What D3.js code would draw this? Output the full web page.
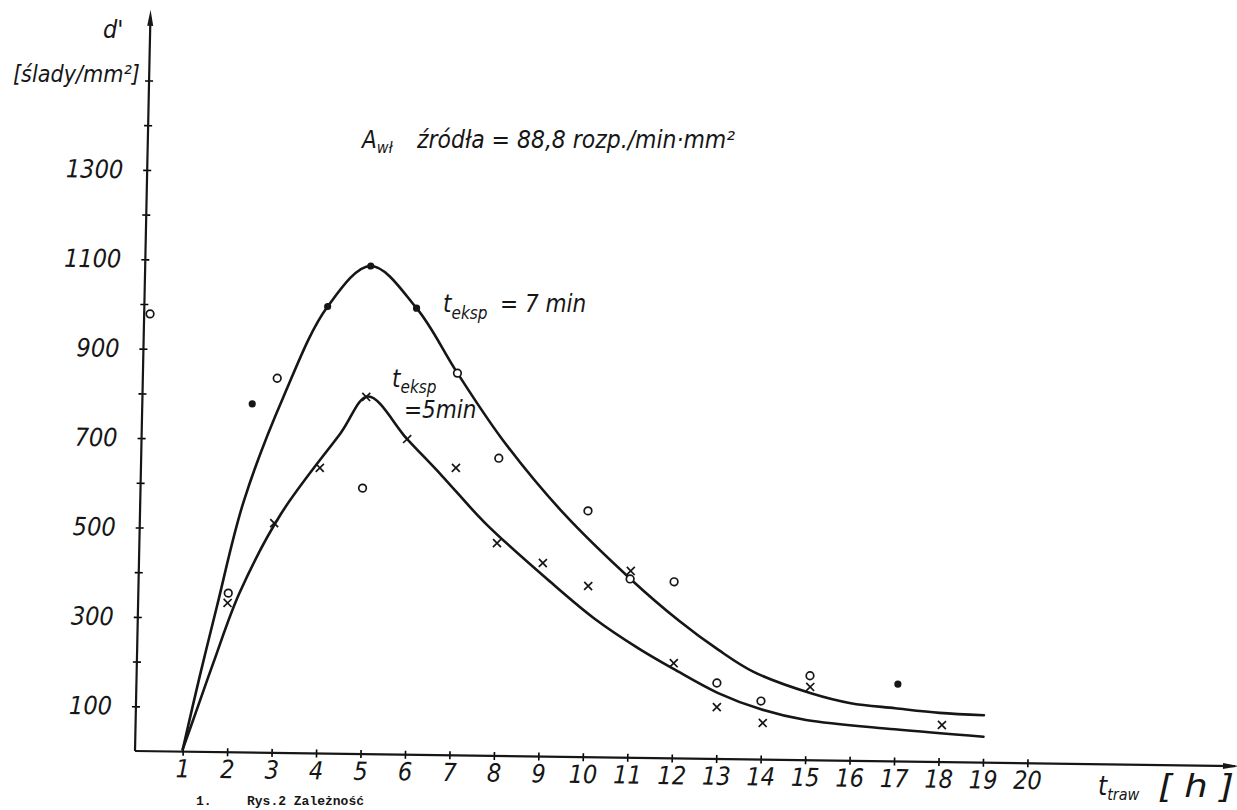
<!DOCTYPE html>
<html>
<head>
<meta charset="utf-8">
<script src="https://cdn.jsdelivr.net/npm/d3@7"></script>
<style>
  body { margin: 0; background: #fff; }
  text { font-family: "Liberation Sans Narrow", "DejaVu Sans Condensed", "Liberation Sans", sans-serif; font-style: italic; fill: #161616; }
  .caption { font-family: "Liberation Mono", "DejaVu Sans Mono", monospace; font-style: normal; font-weight: bold; }
</style>
</head>
<body>
<div id="chart"></div>
<script>
// axis ticks
const hourTicks = d3.range(1, 21);
const densityTicks = d3.range(100, 1600, 100);
const densityLabels = [100, 300, 500, 700, 900, 1100, 1300];

// t_eksp = 7 min, measured points (filled dots)
const sevenDotH = [2.4, 4.05, 5.0, 6.05, 17.05];
const sevenDotV = [780, 1000, 1092, 999, 173];
// t_eksp = 7 min, measured points (open circles)
const sevenRingH = [0.06, 1.95, 2.95, 4.92, 7.0, 7.97, 10.0, 10.98, 11.97, 12.98, 13.98, 15.07];
const sevenRingV = [978, 356, 838, 595, 855, 666, 551, 400, 395, 170, 131, 189];
// t_eksp = 5 min, measured points (crosses)
const fiveCrossH = [1.94, 2.95, 3.95, 4.96, 5.9, 7.01, 7.97, 9.01, 10.04, 10.99, 12.0, 12.99, 14.03, 15.08, 18.06];
const fiveCrossV = [334, 514, 639, 799, 706, 643, 476, 433, 383, 418, 213, 116, 82, 164, 83];

// hand drawn curves
const sevenCurveH = [1, 1.35, 1.7, 2.25, 3.1, 4.05, 5.0, 6.05, 7.0, 8.05, 9.45, 11.0, 12.1, 13.0, 13.8, 15.1, 16.0, 17.0, 18.0, 19.0];
const sevenCurveV = [5, 170, 325, 560, 797, 1000, 1092, 999, 855, 707, 545, 399, 308, 244, 196, 150, 129, 119, 110, 106];
const fiveCurveH = [1, 1.3, 1.65, 2.2, 3.1, 4.4, 5.0, 5.9, 6.7, 7.7, 9.2, 10.2, 11.2, 12.0, 13.0, 14.0, 15.0, 17.0, 19.0];
const fiveCurveV = [5, 95, 200, 356, 535, 717, 800, 706, 625, 520, 390, 310, 245, 200, 148, 112, 90, 72, 58];

const svgWidth = 1237, svgHeight = 810;
const origin = {x: 135, y: 751};
const ink = "#161616";
const tickFont = '"Liberation Sans Narrow", "DejaVu Sans Condensed", "Liberation Sans", sans-serif';

const svg = d3.select('#chart').append('svg')
  .attr('width', svgWidth)
  .attr('height', svgHeight);

// the scan is slightly skewed, so the plot group is sheared a little
const plot = svg.append('g')
  .attr('transform', 'matrix(1,0.01375,-0.021,1,' + origin.x + ',' + origin.y + ')');

const x = d3.scaleLinear().domain([0, 20]).range([3.2, 3.2 + 20 * 44.46]);
const y = d3.scaleLinear().domain([0, 1600]).range([0, -1600 * 0.447]);

// x axis
const xAxis = plot.append('g')
  .call(d3.axisBottom(x).tickValues(hourTicks).tickSize(4).tickPadding(4));
xAxis.select('.domain').remove();
xAxis.selectAll('.tick line').attr('y1', -4).attr('stroke-width', 1.6);
xAxis.selectAll('.tick text')
  .attr('font-size', 25)
  .attr('font-family', tickFont)
  .attr('fill', ink);

plot.append('line')
  .attr('x1', 0).attr('y1', 0)
  .attr('x2', 1100).attr('y2', 0)
  .attr('stroke', ink).attr('stroke-width', 2.2);
plot.append('path')
  .attr('d', 'M1104,0L1088,-3L1088,3Z')
  .attr('fill', ink);

// y axis
const yAxis = plot.append('g')
  .call(d3.axisLeft(y).tickValues(densityTicks).tickSize(4).tickPadding(20)
    .tickFormat(d => densityLabels.includes(d) ? d : ''));
yAxis.select('.domain').remove();
yAxis.selectAll('.tick line').attr('x1', 4).attr('stroke-width', 1.6);
yAxis.selectAll('.tick text')
  .attr('font-size', 25)
  .attr('font-family', tickFont)
  .attr('fill', ink);

const yTop = y(1658);
plot.append('line')
  .attr('x1', 0).attr('y1', 0)
  .attr('x2', 0).attr('y2', yTop + 10)
  .attr('stroke', ink).attr('stroke-width', 2.2);
plot.append('path')
  .attr('d', 'M0,' + yTop + 'L-3,' + (yTop + 16) + 'L3,' + (yTop + 16) + 'Z')
  .attr('fill', ink);

// curves
const line = d3.line()
  .x(d => x(d[0]))
  .y(d => y(d[1]))
  .curve(d3.curveCatmullRom.alpha(0.5));

[[sevenCurveH, sevenCurveV], [fiveCurveH, fiveCurveV]].forEach(([hs, vs]) => {
  plot.append('path')
    .attr('d', line(d3.zip(hs, vs)))
    .attr('fill', 'none')
    .attr('stroke', ink)
    .attr('stroke-width', 2.6)
    .attr('stroke-linecap', 'round');
});

// measured points
plot.selectAll('.dot')
  .data(d3.zip(sevenDotH, sevenDotV))
  .enter().append('circle')
    .attr('class', 'dot')
    .attr('cx', d => x(d[0]))
    .attr('cy', d => y(d[1]))
    .attr('r', 3.6)
    .attr('fill', ink);

plot.selectAll('.ring')
  .data(d3.zip(sevenRingH, sevenRingV))
  .enter().append('circle')
    .attr('class', 'ring')
    .attr('cx', d => x(d[0]))
    .attr('cy', d => y(d[1]))
    .attr('r', 3.8)
    .attr('fill', '#fff')
    .attr('stroke', ink)
    .attr('stroke-width', 1.7);

plot.selectAll('.cross')
  .data(d3.zip(fiveCrossH, fiveCrossV))
  .enter().append('path')
    .attr('class', 'cross')
    .attr('transform', d => 'translate(' + x(d[0]) + ',' + y(d[1]) + ')')
    .attr('d', 'M-4,-4L4,4M-4,4L4,-4')
    .attr('stroke', ink)
    .attr('stroke-width', 1.7);

// annotations
svg.append('text').attr('x', 103).attr('y', 38).attr('font-size', 25).text("d'");
svg.append('text').attr('x', 13).attr('y', 82).attr('font-size', 23)
  .attr('textLength', 127).attr('lengthAdjust', 'spacingAndGlyphs')
  .text('[ślady/mm²]');

const title = svg.append('text').attr('x', 362).attr('y', 148).attr('font-size', 24);
title.append('tspan').text('A');
title.append('tspan').attr('font-size', 16).attr('dy', 5).text('wł');
title.append('tspan').attr('x', 417).attr('dy', -5)
  .attr('textLength', 318).attr('lengthAdjust', 'spacingAndGlyphs')
  .text('źródła = 88,8 rozp./min·mm²');

const lab7 = svg.append('text').attr('x', 443).attr('y', 312).attr('font-size', 24);
lab7.append('tspan').text('t');
lab7.append('tspan').attr('font-size', 17).attr('dy', 7).text('eksp');
lab7.append('tspan').attr('x', 500).attr('dy', -7).text('= 7 min');

const lab5 = svg.append('text').attr('x', 392).attr('y', 387).attr('font-size', 24);
lab5.append('tspan').text('t');
lab5.append('tspan').attr('font-size', 17).attr('dy', 6).text('eksp');
svg.append('text').attr('x', 404).attr('y', 418).attr('font-size', 24).text('=5min');

const xLab = svg.append('text').attr('x', 1098).attr('y', 795).attr('font-size', 26);
xLab.append('tspan').text('t');
xLab.append('tspan').attr('font-size', 16).attr('dy', 5).text('traw');
xLab.append('tspan').attr('x', 1158).attr('dy', -3).attr('font-size', 32)
  .attr('textLength', 76).attr('lengthAdjust', 'spacingAndGlyphs').text('[ h ]');

svg.append('text').attr('class', 'caption').attr('x', 196).attr('y', 805).attr('font-size', 13).text('1.');
svg.append('text').attr('class', 'caption').attr('x', 247).attr('y', 805).attr('font-size', 13).text('Rys.2 Zależność');
</script>
</body>
</html>
